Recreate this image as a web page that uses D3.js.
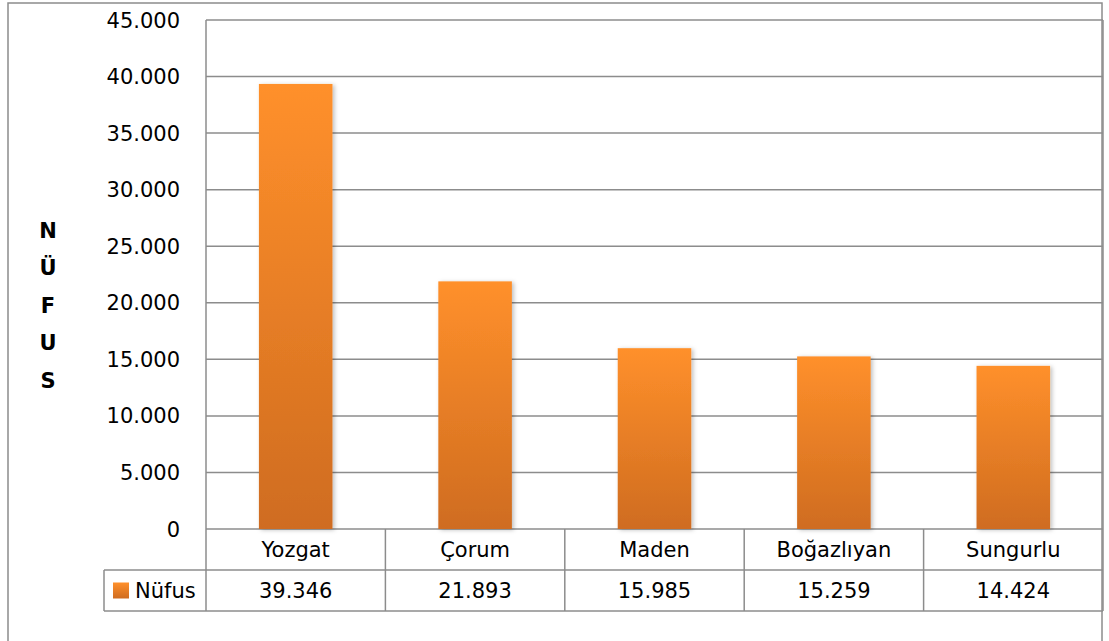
<!DOCTYPE html>
<html>
<head>
<meta charset="utf-8">
<script src="https://d3js.org/d3.v7.min.js"></script>
<style>
    body { margin: 0; background: #fff; }
    text { font-family: "DejaVu Sans", sans-serif; fill: #000; }
</style>
</head>
<body>
<script>
    const categories = ["Yozgat", "Çorum", "Maden", "Boğazlıyan", "Sungurlu"];
    const nufus = [39346, 21893, 15985, 15259, 14424];
    const yTicks = [0, 5000, 10000, 15000, 20000, 25000, 30000, 35000, 40000, 45000];
    const seriesName = "Nüfus";
    const axisTitle = ["N", "Ü", "F", "U", "S"];

    const width = 1109, height = 641;
    const plotL = 206, plotR = 1103, plotT = 20, plotB = 529;
    const rowH = 41;
    const gridColor = "#8c8c8c";

    const tr = d3.formatLocale({ decimal: ",", thousands: ".", grouping: [3], currency: ["", ""] });
    const fmt = tr.format(",");

    const svg = d3.select("body").append("svg").attr("width", width).attr("height", height);

    const defs = svg.append("defs");
    const grad = defs.append("linearGradient").attr("id", "barGrad")
        .attr("x1", 0).attr("y1", 0).attr("x2", 0).attr("y2", 1);
    grad.append("stop").attr("offset", "0%").attr("stop-color", "#ff902b");
    grad.append("stop").attr("offset", "100%").attr("stop-color", "#cf6c20");
    const shadow = defs.append("filter").attr("id", "shadow")
        .attr("x", "-20%").attr("y", "-5%").attr("width", "150%").attr("height", "110%");
    shadow.append("feDropShadow").attr("dx", 2).attr("dy", 1).attr("stdDeviation", 2)
        .attr("flood-color", "#000").attr("flood-opacity", 0.25);

    // outer chart border
    svg.append("rect")
        .attr("x", 8).attr("y", 3).attr("width", 1094).attr("height", 680)
        .attr("fill", "none").attr("stroke", gridColor).attr("stroke-width", 1.5);

    const x = d3.scaleBand().domain(categories).range([plotL, plotR]).paddingInner(0).paddingOuter(0);
    const y = d3.scaleLinear().domain([0, 45000]).range([plotB, plotT]);

    // gridlines
    svg.append("g").selectAll("line")
        .data(yTicks)
        .join("line")
        .attr("x1", plotL).attr("x2", plotR)
        .attr("y1", d => y(d)).attr("y2", d => y(d))
        .attr("stroke", gridColor).attr("stroke-width", 1.5);

    // plot left edge
    svg.append("line")
        .attr("x1", plotL).attr("x2", plotL).attr("y1", plotT).attr("y2", plotB + 2 * rowH)
        .attr("stroke", gridColor).attr("stroke-width", 1.5);

    // y tick labels
    svg.append("g").selectAll("text")
        .data(yTicks)
        .join("text")
        .attr("x", 180)
        .attr("y", d => y(d))
        .attr("dy", "0.36em")
        .attr("text-anchor", "end")
        .attr("font-size", 21)
        .text(d => fmt(d));

    // bars
    const barW = x.bandwidth() * 0.41;
    svg.append("g").selectAll("rect")
        .data(nufus)
        .join("rect")
        .attr("x", (d, i) => x(categories[i]) + (x.bandwidth() - barW) / 2)
        .attr("y", d => y(d))
        .attr("width", barW)
        .attr("height", d => y(0) - y(d))
        .attr("fill", "url(#barGrad)")
        .attr("filter", "url(#shadow)");

    // data table
    const table = svg.append("g").attr("stroke", gridColor).attr("stroke-width", 1.5);
    table.append("line").attr("x1", 104).attr("x2", plotR).attr("y1", plotB + rowH).attr("y2", plotB + rowH);
    table.append("line").attr("x1", 104).attr("x2", plotR).attr("y1", plotB + 2 * rowH).attr("y2", plotB + 2 * rowH);
    table.append("line").attr("x1", 104).attr("x2", 104).attr("y1", plotB + rowH).attr("y2", plotB + 2 * rowH);
    table.selectAll("line.div")
        .data(categories.slice(1))
        .join("line")
        .attr("class", "div")
        .attr("x1", d => x(d)).attr("x2", d => x(d))
        .attr("y1", plotB).attr("y2", plotB + 2 * rowH);
    table.append("line").attr("x1", plotR).attr("x2", plotR).attr("y1", plotT).attr("y2", plotB + 2 * rowH);

    svg.append("g").selectAll("text")
        .data(categories)
        .join("text")
        .attr("x", d => x(d) + x.bandwidth() / 2)
        .attr("y", plotB + rowH / 2)
        .attr("dy", "0.36em")
        .attr("text-anchor", "middle")
        .attr("font-size", 21)
        .text(d => d);

    svg.append("g").selectAll("text")
        .data(nufus)
        .join("text")
        .attr("x", (d, i) => x(categories[i]) + x.bandwidth() / 2)
        .attr("y", plotB + rowH * 1.5)
        .attr("dy", "0.36em")
        .attr("text-anchor", "middle")
        .attr("font-size", 21)
        .text(d => fmt(d));

    // legend key
    svg.append("rect")
        .attr("x", 113).attr("y", plotB + rowH * 1.5 - 8)
        .attr("width", 16).attr("height", 16)
        .attr("fill", "url(#barGrad)");
    svg.append("text")
        .attr("x", 135).attr("y", plotB + rowH * 1.5)
        .attr("dy", "0.36em")
        .attr("font-size", 21)
        .text(seriesName);

    // stacked axis title
    svg.append("g").selectAll("text")
        .data(axisTitle)
        .join("text")
        .attr("x", 48)
        .attr("y", (d, i) => 230 + i * 37.6)
        .attr("dy", "0.36em")
        .attr("text-anchor", "middle")
        .attr("font-family", "'Open Sans', sans-serif")
        .attr("font-size", 21)
        .attr("font-weight", "bold")
        .text(d => d);
</script>
</body>
</html>
